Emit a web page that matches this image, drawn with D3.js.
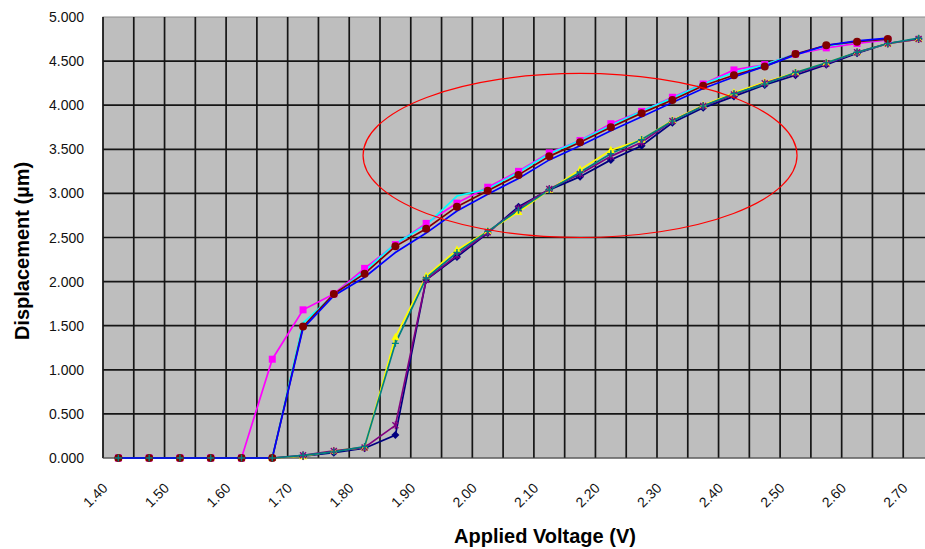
<!DOCTYPE html>
<html>
<head>
<meta charset="utf-8">
<script src="https://cdn.jsdelivr.net/npm/d3@7"></script>
<style>
  body { margin: 0; background: #fff; }
  text { font-family: "Liberation Sans", Arial, sans-serif; }
</style>
</head>
<body>
<script>
// categories (applied voltage, V)
var voltages = ["1.40","1.45","1.50","1.55","1.60","1.65","1.70","1.75","1.80","1.85","1.90","1.95","2.00",
  "2.05","2.10","2.15","2.20","2.25","2.30","2.35","2.40","2.45","2.50","2.55","2.60","2.65","2.70"];
var yTicks = [0, 0.5, 1, 1.5, 2, 2.5, 3, 3.5, 4, 4.5, 5];

// series values (µm), in Excel series order
var navy    = [0,0,0,0,0,0,0.02,0.06,0.11,0.26,2.02,2.28,2.55,2.85,3.04,3.19,3.38,3.54,3.80,3.97,4.10,4.23,4.34,4.46,4.59,4.70,4.75];
var magenta = [0,0,0,0,0,1.12,1.68,1.86,2.15,2.42,2.66,2.89,3.07,3.25,3.46,3.60,3.79,3.93,4.09,4.24,4.40,4.46,4.58,4.65,4.70,4.74];
var yellow  = [0,0,0,0,0,0,0.02,0.08,0.12,1.37,2.06,2.36,2.57,2.79,3.04,3.27,3.49,3.61,3.83,4.00,4.14,4.26,4.37,4.48,4.60,4.70,4.75];
var cyan    = [0,0,0,0,0,0,1.53,1.85,2.12,2.43,2.64,2.97,3.05,3.24,3.45,3.60,3.77,3.93,4.08,4.24,4.37,4.46,4.58,4.67,4.72,4.75];
var purple  = [0,0,0,0,0,0,0.03,0.08,0.12,0.37,2.02,2.30,2.56,2.83,3.05,3.22,3.42,3.58,3.82,3.99,4.12,4.25,4.36,4.47,4.60,4.70,4.75];
var darkred = [0,0,0,0,0,0,1.49,1.86,2.09,2.40,2.60,2.85,3.03,3.21,3.42,3.58,3.75,3.91,4.06,4.22,4.34,4.44,4.58,4.68,4.72,4.75];
var teal    = [0,0,0,0,0,0,0.03,0.07,0.13,1.30,2.04,2.33,2.57,2.81,3.04,3.24,3.45,3.61,3.82,3.99,4.13,4.24,4.37,4.48,4.60,4.70,4.76];
var blue    = [0,0,0,0,0,0,1.47,1.84,2.05,2.33,2.55,2.80,2.99,3.17,3.38,3.54,3.71,3.87,4.03,4.19,4.32,4.44,4.57,4.68,4.73,4.76];

// red ellipse annotation: centre voltage, centre value, half width (categories), half height (µm)
var ellipse = { v: "2.15", y: 3.43, rxCats: 7.05, ry: 0.93 };

var series = [
  { values: navy,    color: "#000080", marker: "diamond" },
  { values: magenta, color: "#ff00ff", marker: "square" },
  { values: yellow,  color: "#ffff00", marker: "triangle" },
  { values: cyan,    color: "#00ffff", marker: "none" },
  { values: purple,  color: "#800080", marker: "star" },
  { values: darkred, color: "#800000", marker: "circle" },
  { values: teal,    color: "#008080", marker: "plus" },
  { values: blue,    color: "#0000ff", marker: "none" }
];

/////////////////////////////// sizes
var width = 925, height = 549;
var plot = { left: 103, top: 17, right: 934, bottom: 458 };

var svg = d3.select("body").append("svg")
  .attr("width", width)
  .attr("height", height);

var x = d3.scaleBand().domain(voltages).range([plot.left, plot.right]).padding(0);
var cx = function (v) { return x(v) + x.bandwidth() / 2; };
var y = d3.scaleLinear().domain([0, 5]).range([plot.bottom, plot.top]);

// plot background
svg.append("rect")
  .attr("x", plot.left).attr("y", plot.top)
  .attr("width", plot.right - plot.left).attr("height", plot.bottom - plot.top)
  .attr("fill", "#bebebe")
  .attr("stroke", "#8c8c8c");

// grid
var grid = svg.append("g").attr("stroke", "#151515").attr("stroke-width", 1.7);
voltages.forEach(function (v) {
  grid.append("line").attr("x1", x(v)).attr("x2", x(v)).attr("y1", plot.top).attr("y2", plot.bottom);
});
yTicks.slice(1, -1).forEach(function (t) {
  grid.append("line").attr("x1", plot.left).attr("x2", plot.right).attr("y1", y(t)).attr("y2", y(t));
});
svg.append("line")
  .attr("x1", plot.left).attr("x2", plot.right)
  .attr("y1", plot.bottom).attr("y2", plot.bottom)
  .attr("stroke", "#444").attr("stroke-width", 1);

// y tick labels
svg.append("g").selectAll("text").data(yTicks).enter().append("text")
  .attr("x", 84)
  .attr("y", function (d) { return y(d) + 5; })
  .attr("text-anchor", "end")
  .attr("font-size", 14)
  .attr("fill", "#111")
  .text(function (d) { return d3.format(".3f")(d); });

// x tick labels (every 0.10 V)
svg.append("g").selectAll("text")
  .data(voltages.filter(function (v, i) { return i % 2 === 0; }))
  .enter().append("text")
  .attr("text-anchor", "end")
  .attr("font-size", 14)
  .attr("fill", "#111")
  .attr("transform", function (v) { return "translate(" + (cx(v) - 10) + "," + (plot.bottom + 31) + ") rotate(-45)"; })
  .text(function (v) { return v; });

// axis titles
svg.append("text")
  .attr("x", 545).attr("y", 543)
  .attr("text-anchor", "middle")
  .attr("font-size", 20).attr("font-weight", "bold")
  .text("Applied Voltage (V)");
svg.append("text")
  .attr("transform", "translate(29,251) rotate(-90)")
  .attr("text-anchor", "middle")
  .attr("font-size", 20).attr("font-weight", "bold")
  .text("Displacement (µm)");

// lines
var line = d3.line()
  .x(function (d, i) { return cx(voltages[i]); })
  .y(function (d) { return y(d); });

series.forEach(function (s) {
  svg.append("path")
    .datum(s.values)
    .attr("d", line)
    .attr("fill", "none")
    .attr("stroke", s.color)
    .attr("stroke-width", 1.7);
});

// markers
function drawMarker(g, type, color) {
  if (type === "square") {
    g.append("rect").attr("x", -3.5).attr("y", -3.5).attr("width", 7).attr("height", 7).attr("fill", color);
  } else if (type === "circle") {
    g.append("circle").attr("r", 4).attr("fill", color);
  } else if (type === "diamond") {
    g.append("path").attr("d", "M0,-4L4,0L0,4L-4,0Z").attr("fill", color);
  } else if (type === "triangle") {
    g.append("path").attr("d", "M0,-4.5L4,3L-4,3Z").attr("fill", color);
  } else if (type === "star") {
    g.append("path").attr("d", "M-3,-3L3,3M3,-3L-3,3M0,-4L0,4").attr("stroke", color).attr("stroke-width", 1.4);
  } else if (type === "plus") {
    g.append("path").attr("d", "M-3.5,0L3.5,0M0,-3.5L0,3.5").attr("stroke", color).attr("stroke-width", 1.4);
  }
}

series.forEach(function (s) {
  if (s.marker === "none") return;
  s.values.forEach(function (val, i) {
    var g = svg.append("g").attr("transform", "translate(" + cx(voltages[i]) + "," + y(val) + ")");
    drawMarker(g, s.marker, s.color);
  });
});

// red ellipse annotation
svg.append("ellipse")
  .attr("cx", cx(ellipse.v))
  .attr("cy", y(ellipse.y))
  .attr("rx", ellipse.rxCats * x.bandwidth())
  .attr("ry", y(0) - y(ellipse.ry))
  .attr("fill", "none")
  .attr("stroke", "#ff0000")
  .attr("stroke-width", 1.2);
</script>
</body>
</html>
